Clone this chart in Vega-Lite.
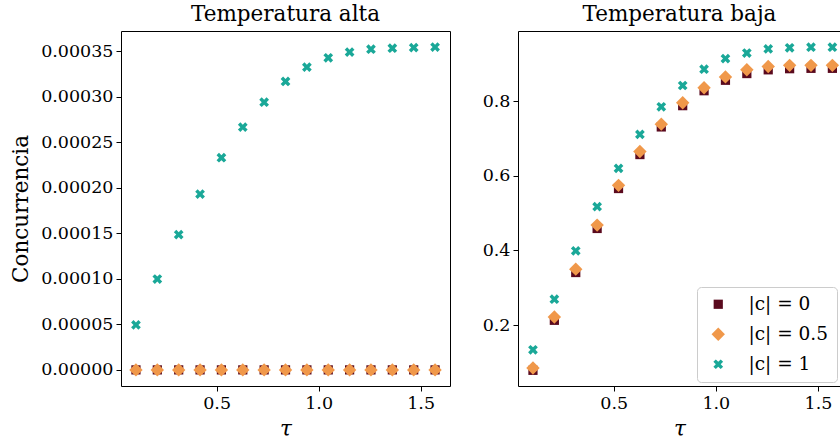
{
  "$schema": "https://vega.github.io/schema/vega-lite/v6.json",
  "padding": {"left": 10, "top": 3, "right": 0, "bottom": 0},
  "spacing": 30,
  "config": {
    "font": "DejaVu Serif",
    "view": {"stroke": "black", "strokeWidth": 1},
    "axis": {"grid": false, "domain": false, "tickColor": "black", "tickSize": 5, "labelColor": "black", "labelFontSize": 17.5, "labelFont": "DejaVu Serif", "titleFont": "DejaVu Serif", "titleFontSize": 21.5, "titleFontWeight": "normal", "titleColor": "black", "labelPadding": 3},
    "title": {"font": "DejaVu Serif", "fontSize": 21.5, "fontWeight": "normal", "color": "black", "offset": 6},
    "legend": {"labelFont": "DejaVu Serif", "labelFontSize": 18.5, "labelColor": "black"}
  },
  "datasets": {
    "alta": [
      {"tau": 0.1047, "c": "|c| = 0", "v": 0}, {"tau": 0.2094, "c": "|c| = 0", "v": 0}, {"tau": 0.3142, "c": "|c| = 0", "v": 0}, {"tau": 0.4189, "c": "|c| = 0", "v": 0}, {"tau": 0.5236, "c": "|c| = 0", "v": 0}, {"tau": 0.6283, "c": "|c| = 0", "v": 0}, {"tau": 0.7330, "c": "|c| = 0", "v": 0}, {"tau": 0.8378, "c": "|c| = 0", "v": 0}, {"tau": 0.9425, "c": "|c| = 0", "v": 0}, {"tau": 1.0472, "c": "|c| = 0", "v": 0}, {"tau": 1.1519, "c": "|c| = 0", "v": 0}, {"tau": 1.2566, "c": "|c| = 0", "v": 0}, {"tau": 1.3614, "c": "|c| = 0", "v": 0}, {"tau": 1.4661, "c": "|c| = 0", "v": 0}, {"tau": 1.5708, "c": "|c| = 0", "v": 0},
      {"tau": 0.1047, "c": "|c| = 0.5", "v": 0}, {"tau": 0.2094, "c": "|c| = 0.5", "v": 0}, {"tau": 0.3142, "c": "|c| = 0.5", "v": 0}, {"tau": 0.4189, "c": "|c| = 0.5", "v": 0}, {"tau": 0.5236, "c": "|c| = 0.5", "v": 0}, {"tau": 0.6283, "c": "|c| = 0.5", "v": 0}, {"tau": 0.7330, "c": "|c| = 0.5", "v": 0}, {"tau": 0.8378, "c": "|c| = 0.5", "v": 0}, {"tau": 0.9425, "c": "|c| = 0.5", "v": 0}, {"tau": 1.0472, "c": "|c| = 0.5", "v": 0}, {"tau": 1.1519, "c": "|c| = 0.5", "v": 0}, {"tau": 1.2566, "c": "|c| = 0.5", "v": 0}, {"tau": 1.3614, "c": "|c| = 0.5", "v": 0}, {"tau": 1.4661, "c": "|c| = 0.5", "v": 0}, {"tau": 1.5708, "c": "|c| = 0.5", "v": 0},
      {"tau": 0.1047, "c": "|c| = 1", "v": 0.0000494}, {"tau": 0.2094, "c": "|c| = 1", "v": 0.0000998}, {"tau": 0.3142, "c": "|c| = 1", "v": 0.0001486}, {"tau": 0.4189, "c": "|c| = 1", "v": 0.0001931}, {"tau": 0.5236, "c": "|c| = 1", "v": 0.000233}, {"tau": 0.6283, "c": "|c| = 1", "v": 0.0002666}, {"tau": 0.7330, "c": "|c| = 1", "v": 0.000294}, {"tau": 0.8378, "c": "|c| = 1", "v": 0.0003168}, {"tau": 0.9425, "c": "|c| = 1", "v": 0.0003325}, {"tau": 1.0472, "c": "|c| = 1", "v": 0.0003428}, {"tau": 1.1519, "c": "|c| = 1", "v": 0.000349}, {"tau": 1.2566, "c": "|c| = 1", "v": 0.0003522}, {"tau": 1.3614, "c": "|c| = 1", "v": 0.0003533}, {"tau": 1.4661, "c": "|c| = 1", "v": 0.000354}, {"tau": 1.5708, "c": "|c| = 1", "v": 0.0003545}
    ],
    "baja": [
      {"tau": 0.1047, "c": "|c| = 0", "v": 0.079}, {"tau": 0.2094, "c": "|c| = 0", "v": 0.213}, {"tau": 0.3142, "c": "|c| = 0", "v": 0.341}, {"tau": 0.4189, "c": "|c| = 0", "v": 0.459}, {"tau": 0.5236, "c": "|c| = 0", "v": 0.566}, {"tau": 0.6283, "c": "|c| = 0", "v": 0.657}, {"tau": 0.7330, "c": "|c| = 0", "v": 0.731}, {"tau": 0.8378, "c": "|c| = 0", "v": 0.788}, {"tau": 0.9425, "c": "|c| = 0", "v": 0.828}, {"tau": 1.0472, "c": "|c| = 0", "v": 0.856}, {"tau": 1.1519, "c": "|c| = 0", "v": 0.874}, {"tau": 1.2566, "c": "|c| = 0", "v": 0.884}, {"tau": 1.3614, "c": "|c| = 0", "v": 0.887}, {"tau": 1.4661, "c": "|c| = 0", "v": 0.888}, {"tau": 1.5708, "c": "|c| = 0", "v": 0.888},
      {"tau": 0.1047, "c": "|c| = 0.5", "v": 0.085}, {"tau": 0.2094, "c": "|c| = 0.5", "v": 0.222}, {"tau": 0.3142, "c": "|c| = 0.5", "v": 0.350}, {"tau": 0.4189, "c": "|c| = 0.5", "v": 0.468}, {"tau": 0.5236, "c": "|c| = 0.5", "v": 0.5745}, {"tau": 0.6283, "c": "|c| = 0.5", "v": 0.665}, {"tau": 0.7330, "c": "|c| = 0.5", "v": 0.7385}, {"tau": 0.8378, "c": "|c| = 0.5", "v": 0.7957}, {"tau": 0.9425, "c": "|c| = 0.5", "v": 0.836}, {"tau": 1.0472, "c": "|c| = 0.5", "v": 0.865}, {"tau": 1.1519, "c": "|c| = 0.5", "v": 0.884}, {"tau": 1.2566, "c": "|c| = 0.5", "v": 0.893}, {"tau": 1.3614, "c": "|c| = 0.5", "v": 0.896}, {"tau": 1.4661, "c": "|c| = 0.5", "v": 0.896}, {"tau": 1.5708, "c": "|c| = 0.5", "v": 0.896},
      {"tau": 0.1047, "c": "|c| = 1", "v": 0.134}, {"tau": 0.2094, "c": "|c| = 1", "v": 0.2695}, {"tau": 0.3142, "c": "|c| = 1", "v": 0.399}, {"tau": 0.4189, "c": "|c| = 1", "v": 0.5175}, {"tau": 0.5236, "c": "|c| = 1", "v": 0.620}, {"tau": 0.6283, "c": "|c| = 1", "v": 0.711}, {"tau": 0.7330, "c": "|c| = 1", "v": 0.785}, {"tau": 0.8378, "c": "|c| = 1", "v": 0.842}, {"tau": 0.9425, "c": "|c| = 1", "v": 0.8856}, {"tau": 1.0472, "c": "|c| = 1", "v": 0.914}, {"tau": 1.1519, "c": "|c| = 1", "v": 0.929}, {"tau": 1.2566, "c": "|c| = 1", "v": 0.940}, {"tau": 1.3614, "c": "|c| = 1", "v": 0.943}, {"tau": 1.4661, "c": "|c| = 1", "v": 0.9445}, {"tau": 1.5708, "c": "|c| = 1", "v": 0.9445}
    ]
  },
  "resolve": {"legend": {"color": "independent", "shape": "independent", "size": "independent"}},
  "hconcat": [
    {
      "title": "Temperatura alta",
      "width": 329,
      "height": 355,
      "data": {"name": "alta"},
      "mark": {"type": "point", "filled": true, "opacity": 1},
      "encoding": {
        "x": {"field": "tau", "type": "quantitative", "title": "τ", "scale": {"domain": [0.0314, 1.644], "nice": false, "zero": false}, "axis": {"values": [0.5, 1.0, 1.5], "format": ".1f", "titleFontStyle": "italic", "titlePadding": 7}},
        "y": {"field": "v", "type": "quantitative", "title": "Concurrencia", "scale": {"domain": [-0.0000177, 0.0003722], "nice": false, "zero": false}, "axis": {"values": [0, 0.00005, 0.0001, 0.00015, 0.0002, 0.00025, 0.0003, 0.00035], "format": ".5f", "titlePadding": 8}},
        "color": {"field": "c", "type": "nominal", "scale": {"domain": ["|c| = 0", "|c| = 0.5", "|c| = 1"], "range": ["#5a0a1e", "#f0984a", "#1aa898"]}, "legend": null},
        "shape": {"field": "c", "type": "nominal", "scale": {"domain": ["|c| = 0", "|c| = 0.5", "|c| = 1"], "range": ["square", "diamond", "M-1,-0.5L-0.5,-1L0,-0.5L0.5,-1L1,-0.5L0.5,0L1,0.5L0.5,1L0,0.5L-0.5,1L-1,0.5L-0.5,0Z"]}, "legend": null},
        "size": {"field": "c", "type": "nominal", "scale": {"type": "ordinal", "domain": ["|c| = 0", "|c| = 0.5", "|c| = 1"], "range": [85, 180, 95]}, "legend": null}
      }
    },
    {
      "title": "Temperatura baja",
      "width": 323,
      "height": 355,
      "data": {"name": "baja"},
      "mark": {"type": "point", "filled": true, "opacity": 1},
      "encoding": {
        "x": {"field": "tau", "type": "quantitative", "title": "τ", "scale": {"domain": [0.0314, 1.613], "nice": false, "zero": false}, "axis": {"values": [0.5, 1.0, 1.5], "format": ".1f", "titleFontStyle": "italic", "titlePadding": 7}},
        "y": {"field": "v", "type": "quantitative", "title": null, "scale": {"domain": [0.037, 0.988], "nice": false, "zero": false}, "axis": {"values": [0.2, 0.4, 0.6, 0.8], "format": ".1f"}},
        "color": {"field": "c", "type": "nominal", "scale": {"domain": ["|c| = 0", "|c| = 0.5", "|c| = 1"], "range": ["#5a0a1e", "#f0984a", "#1aa898"]}, "legend": {"title": null, "orient": "bottom-right", "offset": 4, "strokeColor": "#cccccc", "fillColor": "white", "cornerRadius": 4, "padding": 8, "rowPadding": 11, "symbolOffset": 4, "labelOffset": 21}},
        "shape": {"field": "c", "type": "nominal", "scale": {"domain": ["|c| = 0", "|c| = 0.5", "|c| = 1"], "range": ["square", "diamond", "M-1,-0.5L-0.5,-1L0,-0.5L0.5,-1L1,-0.5L0.5,0L1,0.5L0.5,1L0,0.5L-0.5,1L-1,0.5L-0.5,0Z"]}, "legend": {"title": null, "orient": "bottom-right", "offset": 4, "strokeColor": "#cccccc", "fillColor": "white", "cornerRadius": 4, "padding": 8, "rowPadding": 11, "symbolOffset": 4, "labelOffset": 21}},
        "size": {"field": "c", "type": "nominal", "scale": {"type": "ordinal", "domain": ["|c| = 0", "|c| = 0.5", "|c| = 1"], "range": [85, 180, 95]}, "legend": {"title": null, "orient": "bottom-right", "offset": 4, "strokeColor": "#cccccc", "fillColor": "white", "cornerRadius": 4, "padding": 8, "rowPadding": 11, "symbolOffset": 4, "labelOffset": 21}}
      }
    }
  ]
}
